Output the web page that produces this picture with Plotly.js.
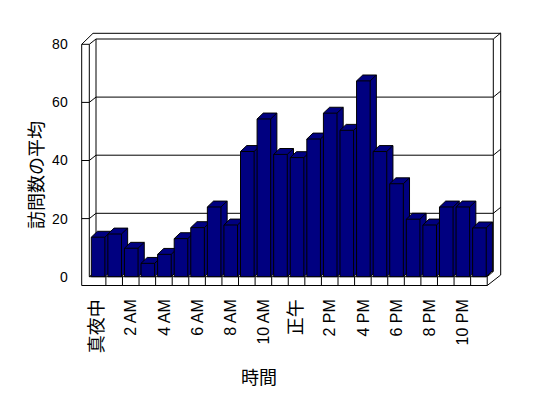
<!DOCTYPE html>
<html><head><meta charset="utf-8">
<script src="https://cdn.plot.ly/plotly-3.0.1.min.js"></script>
<style>html,body{margin:0;padding:0;background:#fff}</style>
</head><body><div id="chart" style="width:548px;height:398px"></div>
<script>
// ---- data ----
const hours = ['真夜中','1 AM','2 AM','3 AM','4 AM','5 AM','6 AM','7 AM','8 AM','9 AM','10 AM','11 AM',
               '正午','1 PM','2 PM','3 PM','4 PM','5 PM','6 PM','7 PM','8 PM','9 PM','10 PM','11 PM'];
const visits = [13.6,14.7,9.8,4.6,7.7,13.1,16.9,24.0,17.8,43.1,54.3,42.1,
                41.0,47.4,56.3,50.4,67.4,43.1,32.0,19.8,17.8,24.0,24.0,16.8];
const yTicks = [0,20,40,60,80];
const yTitle = '訪問数の平均';
const xTitle = '時間';

// ---- geometry (style) ----
const W=548,H=398;
const PX0=89.3, PXU=16.58, PY0=276.7, PYV=2.905;
const U = px => (px-PX0)/PXU;
const V = py => (PY0-py)/PYV;
const N = hours.length;
const FONT = 'Liberation Sans, Noto Sans CJK JP, sans-serif';

const wallOX=81.7, wallIX=PX0, backX0=96, backX1=493.3, outX1=500.7, outTopY=33.3;
const floorBY=285.5, floorRX=PX0+N*PXU, depthPY=5.3;
const yTop = Math.max(...yTicks);

const fx=[], fy=[];
function seg(pts){ pts.forEach(p=>{fx.push(U(p[0])); fy.push(V(p[1]));}); fx.push(null); fy.push(null); }
yTicks.forEach(t=>{
  if(t===0) return;
  const pf=PY0-t*PYV, pb=pf-depthPY;
  seg([[wallOX,pf],[wallIX,pf]]);
  seg([[wallIX,pf],[backX0,pb],[backX1,pb],[outX1,pb-6]]);
});
const topF=PY0-yTop*PYV, topB=topF-depthPY, baseB=PY0-depthPY;
seg([[wallOX,topF],[wallOX,floorBY]]);
seg([[wallIX,topF],[wallIX,PY0]]);
seg([[wallOX,topF],[93,outTopY],[outX1,outTopY],[outX1,275]]);
seg([[backX0,topB],[backX0,baseB]]);
seg([[backX1,topB],[backX1,baseB]]);
seg([[backX0,baseB],[backX1,baseB]]);
seg([[wallIX,PY0],[backX0,baseB]]);
seg([[wallIX,PY0],[floorRX,PY0],[backX1,baseB]]);
seg([[wallOX,floorBY],[floorRX,floorBY],[outX1,275]]);
seg([[floorRX,PY0],[floorRX,floorBY]]);
for(let k=1;k<N;k++) seg([[PX0+k*PXU,PY0],[PX0+k*PXU,floorBY]]);

const traces=[{x:fx,y:fy,mode:'lines',line:{color:'#000',width:1},hoverinfo:'skip',showlegend:false}];

const sx=6.2/PXU, sy=5.9/PYV;
visits.forEach((h,i)=>{
  const a=i+0.12, b=i+0.94;
  traces.push({x:[a,a,a+sx,b+sx,b+sx,b,a], y:[0,h,h+sy,h+sy,sy,0,0], mode:'lines', fill:'toself',
    fillcolor:'#000080', line:{color:'#000',width:1}, hoverinfo:'skip', showlegend:false});
  traces.push({x:[a,b,b,null,b,b+sx], y:[h,h,0,null,h,h+sy], mode:'lines',
    line:{color:'#000',width:1}, hoverinfo:'skip', showlegend:false});
});

const isCJK = s => /[\u3000-\u9fff]/.test(s);
const tv=[], tt=[];
hours.forEach((h,i)=>{ if(i%2===0){ tv.push(i+0.53); tt.push(isCJK(h)?'<span style="font-size:18px">'+h+'</span>':h);} });

const layout={
  width:W,height:H,margin:{l:0,r:0,t:0,b:0,pad:0},
  paper_bgcolor:'#fff',plot_bgcolor:'rgba(0,0,0,0)',showlegend:false,
  font:{family:FONT,color:'#000'},
  xaxis:{range:[U(0),U(W)],showgrid:false,zeroline:false,showline:false,ticks:'',
    tickmode:'array',tickvals:tv,ticktext:tt,tickangle:-90,tickfont:{size:16,family:FONT,color:'#000'},
    anchor:'free',position:1-286/H,ticklabelstandoff:9,fixedrange:true},
  yaxis:{range:[V(H),V(0)],showgrid:false,zeroline:false,showline:false,ticks:'',
    tickmode:'array',tickvals:yTicks,tickfont:{size:14,family:FONT,color:'#000'},
    anchor:'free',position:wallOX/W,ticklabelstandoff:14,fixedrange:true},
  annotations:[
    {text:yTitle,xref:'paper',yref:'paper',x:35/W,y:1-175/H,showarrow:false,textangle:-90,
     font:{size:18,family:'Noto Sans CJK JP',color:'#000'},xanchor:'center',yanchor:'middle'},
    {text:xTitle,xref:'paper',yref:'paper',x:259/W,y:1-376/H,showarrow:false,
     font:{size:18,family:'Noto Sans CJK JP',color:'#000'},xanchor:'center',yanchor:'middle'}
  ]
};
Plotly.newPlot('chart',traces,layout,{staticPlot:true,displayModeBar:false});
</script></body></html>
